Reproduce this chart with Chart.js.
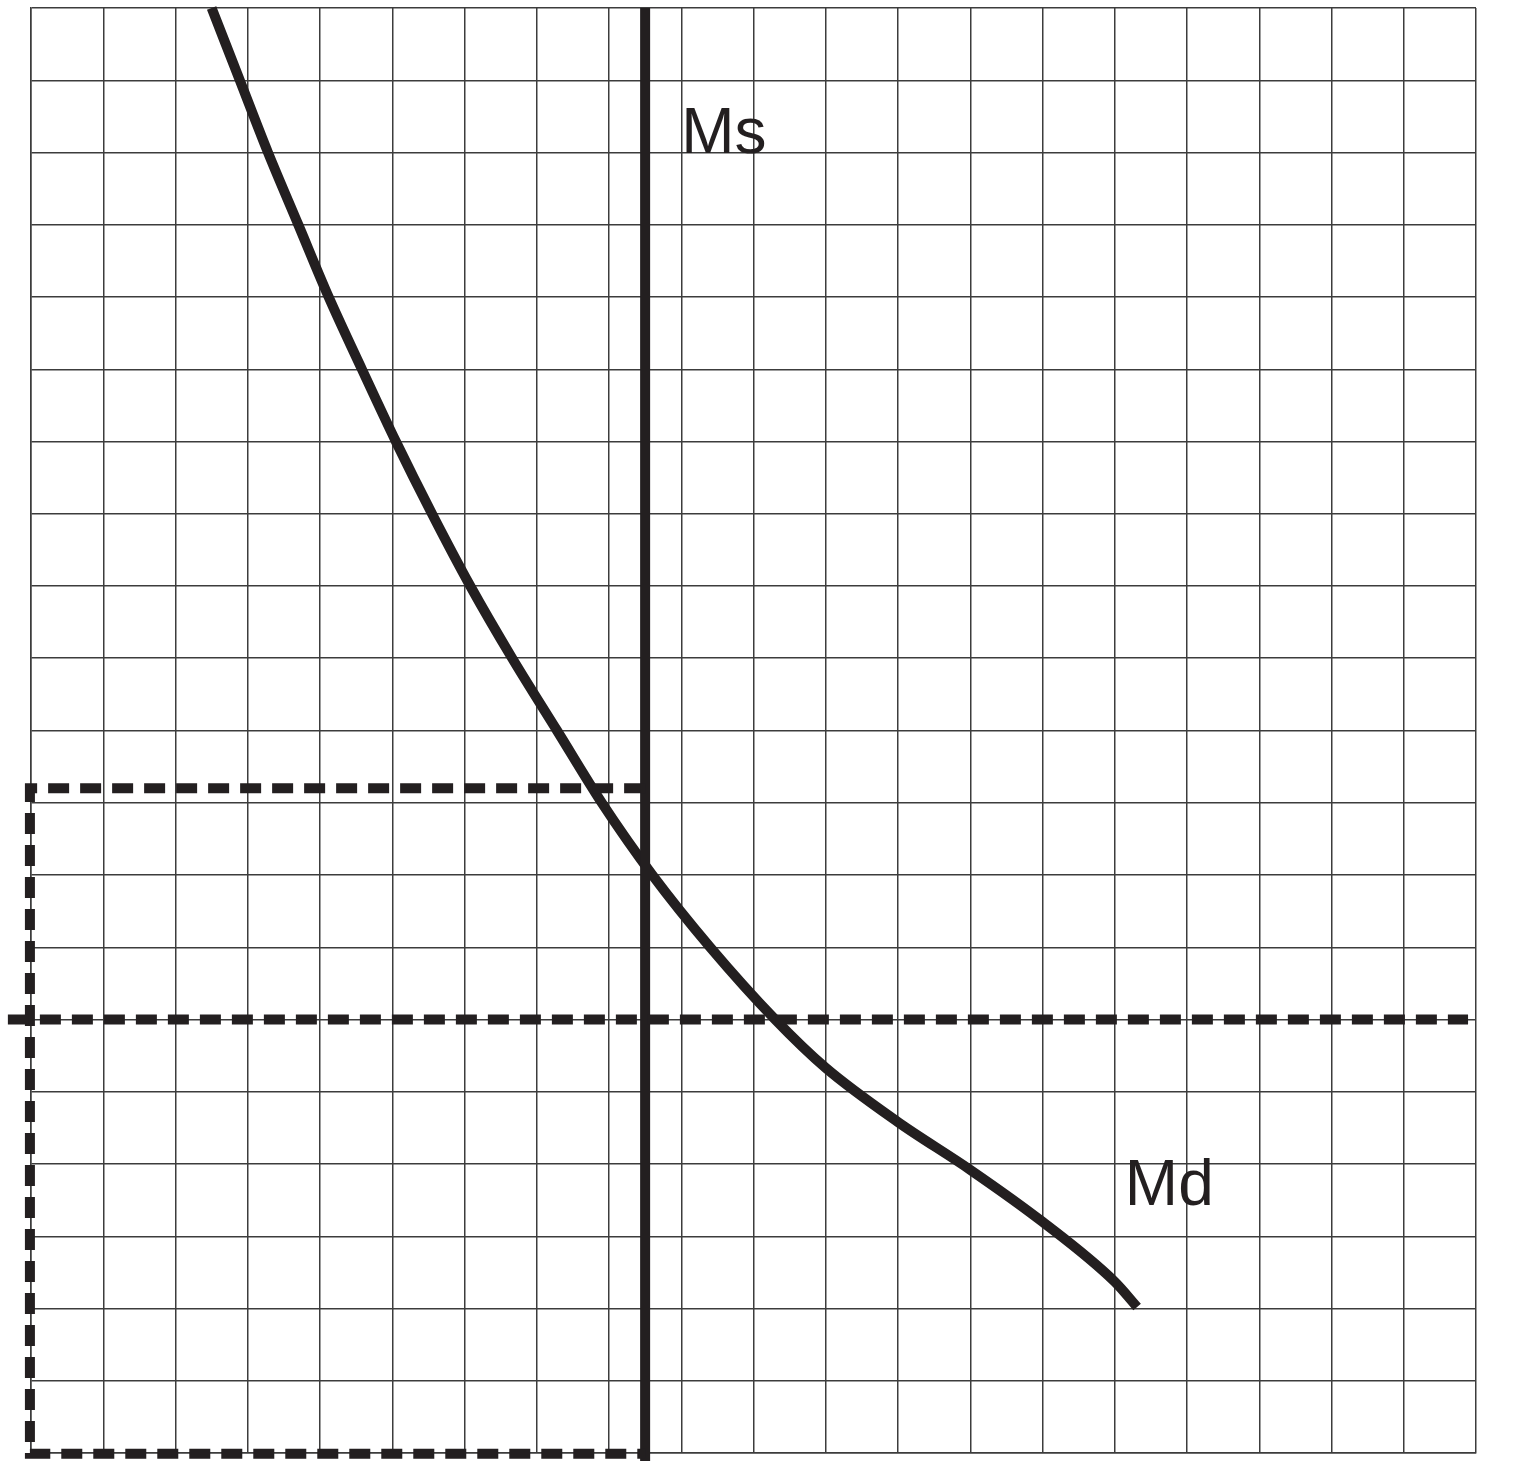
<!DOCTYPE html>
<html>
<head>
<meta charset="utf-8">
<title>Money market</title>
<script src="https://cdn.jsdelivr.net/npm/chart.js@4.4.1/dist/chart.umd.min.js"></script>
<style>
  html, body { margin: 0; padding: 0; background: #fff; }
  #wrap { width: 1514px; height: 1461px; position: relative; }
</style>
</head>
<body>
<div id="wrap"><canvas id="moneyChart"></canvas></div>
<script>
// Md curve (x = quantity, y = rate, in grid squares)
const mdX = [2.50, 2.89, 3.28, 3.70, 4.12, 4.58, 5.05, 5.55, 6.08, 6.66, 7.28, 7.90, 8.60, 9.40, 10.30, 11.0, 12.0, 13.0, 14.0, 15.0, 15.31];
const mdY = [20, 19, 18, 17, 16, 15, 14, 13, 12, 11, 10, 9, 8, 7, 6, 5.33, 4.58, 3.92, 3.20, 2.37, 2.02];

// vertical money supply line
const msX = [8.5, 8.5];
const msY = [20, -0.12];

// dashed rate line across the whole grid
const rateX = [-0.32, 19.89];
const rateY = [6, 6];

// dashed box (top, left side, bottom) - x not sorted on purpose so every point is drawn
const boxX = [8.5, -0.015, -0.015, 8.5];
const boxY = [9.2, 9.2, -0.01, -0.01];

const gridMin = 0;
const gridMax = 20;

const INK = '#231f20';
const GRID = '#3c3c3c';

function pts(xs, ys) {
  return xs.map((x, i) => ({ x: x, y: ys[i] }));
}

// draws the "Ms" / "Md" tags at data positions
const curveLabels = {
  id: 'curveLabels',
  afterDatasetsDraw(chart) {
    const { ctx, scales } = chart;
    const tags = [
      { text: 'Ms', x: 9.0, y: 18.0 },
      { text: 'Md', x: 15.14, y: 3.43 }
    ];
    ctx.save();
    ctx.fillStyle = INK;
    ctx.font = '64px "Liberation Sans", Arial, sans-serif';
    ctx.textAlign = 'left';
    ctx.textBaseline = 'alphabetic';
    tags.forEach(t => {
      ctx.fillText(t.text, scales.x.getPixelForValue(t.x), scales.y.getPixelForValue(t.y));
    });
    ctx.restore();
  }
};

const lineDefaults = {
  showLine: true,
  pointRadius: 0,
  pointHoverRadius: 0,
  borderColor: INK,
  borderWidth: 10,
  borderCapStyle: 'butt',
  clip: false,
  fill: false
};

const ctx = document.getElementById('moneyChart').getContext('2d');

new Chart(ctx, {
  type: 'scatter',
  data: {
    datasets: [
      Object.assign({}, lineDefaults, {
        label: 'rate',
        data: pts(rateX, rateY),
        borderDash: [21, 11]
      }),
      Object.assign({}, lineDefaults, {
        label: 'box',
        data: pts(boxX, boxY),
        borderDash: [21, 11],
        borderJoinStyle: 'miter'
      }),
      Object.assign({}, lineDefaults, {
        label: 'Ms',
        data: pts(msX, msY)
      }),
      Object.assign({}, lineDefaults, {
        label: 'Md',
        data: pts(mdX, mdY),
        cubicInterpolationMode: 'monotone'
      })
    ]
  },
  options: {
    animation: false,
    responsive: true,
    maintainAspectRatio: false,
    events: [],
    layout: {
      padding: { left: 31, right: 38, top: 8, bottom: 8 }
    },
    scales: {
      x: {
        type: 'linear',
        min: gridMin,
        max: gridMax,
        ticks: { display: false, stepSize: 1 },
        grid: { color: GRID, lineWidth: 1.5, drawTicks: false },
        border: { display: true, color: GRID, width: 1.5 },
        afterFit: s => { s.height = 0; }
      },
      y: {
        type: 'linear',
        min: gridMin,
        max: gridMax,
        ticks: { display: false, stepSize: 1 },
        grid: { color: GRID, lineWidth: 1.5, drawTicks: false },
        border: { display: true, color: GRID, width: 1.5 },
        afterFit: s => { s.width = 0; }
      }
    },
    plugins: {
      legend: { display: false },
      tooltip: { enabled: false }
    }
  },
  plugins: [curveLabels]
});
</script>
</body>
</html>
